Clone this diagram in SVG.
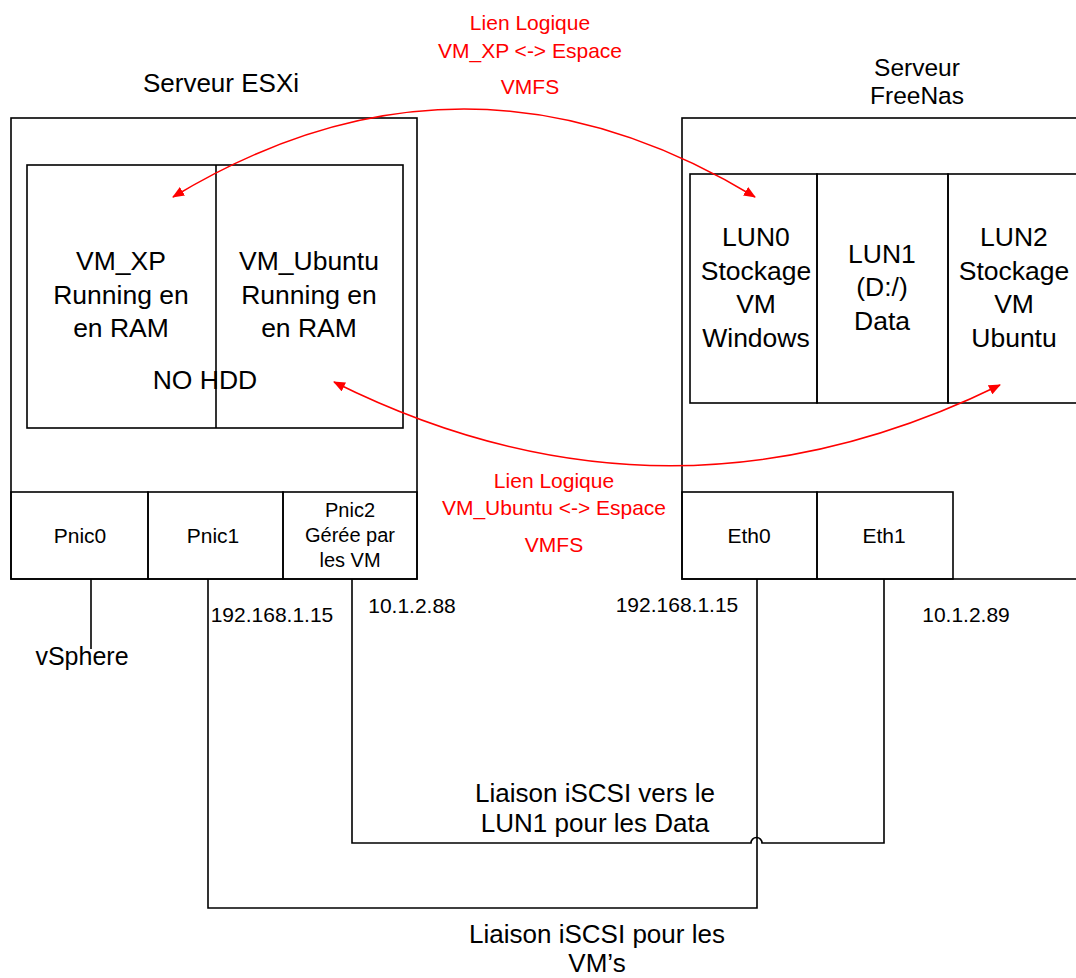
<svg xmlns="http://www.w3.org/2000/svg" width="1076" height="978" viewBox="0 0 1076 978">
<style>
.b{fill:none;stroke:#000;stroke-width:1.6}
.t{font-family:"Liberation Sans",Arial,sans-serif;fill:#000;text-anchor:middle}
.r{font-family:"Liberation Sans",Arial,sans-serif;fill:#ff0000;text-anchor:middle;font-size:21px}
.w{fill:none;stroke:#000;stroke-width:1.6}
.a{fill:none;stroke:#ff0000;stroke-width:1.5}
</style>
<defs>
<marker id="ah" viewBox="0 0 12 10" refX="11" refY="5" markerWidth="12" markerHeight="10" markerUnits="userSpaceOnUse" orient="auto-start-reverse">
<path d="M0,0 L12,5 L0,10 Z" fill="#ff0000"/>
</marker>
</defs>
<rect width="1076" height="978" fill="#fff"/>

<g id="esxi">
<text class="t" x="221" y="92" font-size="26">Serveur ESXi</text>
<rect class="b" x="11" y="118" width="406" height="461"/>
</g>
<g id="vm-box">
<rect class="b" x="27" y="165" width="376" height="263"/>
<line class="b" x1="216" y1="165" x2="216" y2="428"/>
</g>
<g id="vm-xp">
<text class="t" x="121" y="270" font-size="26.5">VM_XP</text>
<text class="t" x="121" y="304" font-size="26.5">Running en</text>
<text class="t" x="121" y="337" font-size="26.5">en RAM</text>
</g>
<g id="vm-ubuntu">
<text class="t" x="309" y="270" font-size="26.5">VM_Ubuntu</text>
<text class="t" x="309" y="304" font-size="26.5">Running en</text>
<text class="t" x="309" y="337" font-size="26.5">en RAM</text>
</g>
<g id="nohdd">
<text class="t" x="205" y="389" font-size="26.5">NO HDD</text>
</g>
<g id="pnic0">
<rect class="b" x="11" y="492" width="137" height="87"/>
<text class="t" x="80" y="543" font-size="21">Pnic0</text>
</g>
<g id="pnic1">
<rect class="b" x="148" y="492" width="135" height="87"/>
<text class="t" x="213" y="543" font-size="21">Pnic1</text>
</g>
<g id="pnic2">
<rect class="b" x="283" y="492" width="134" height="87"/>
<text class="t" x="350" y="517" font-size="20">Pnic2</text>
<text class="t" x="350" y="542" font-size="20">Gérée par</text>
<text class="t" x="350" y="567" font-size="20">les VM</text>
</g>

<g id="freenas">
<text class="t" x="917" y="76" font-size="24.5">Serveur</text>
<text class="t" x="917" y="104" font-size="24.5">FreeNas</text>
<rect class="b" x="682" y="118" width="420" height="461"/>
</g>
<g id="lun0">
<rect class="b" x="690" y="174" width="127" height="229"/>
<text class="t" x="756" y="246" font-size="26.5">LUN0</text>
<text class="t" x="756" y="280" font-size="26.5">Stockage</text>
<text class="t" x="756" y="313" font-size="26.5">VM</text>
<text class="t" x="756" y="347" font-size="26.5">Windows</text>
</g>
<g id="lun1">
<rect class="b" x="817" y="174" width="131" height="229"/>
<text class="t" x="882" y="263" font-size="26.5">LUN1</text>
<text class="t" x="882" y="296" font-size="26.5">(D:/)</text>
<text class="t" x="882" y="330" font-size="26.5">Data</text>
</g>
<g id="lun2">
<rect class="b" x="948" y="174" width="140" height="229"/>
<text class="t" x="1014" y="246" font-size="26.5">LUN2</text>
<text class="t" x="1014" y="280" font-size="26.5">Stockage</text>
<text class="t" x="1014" y="313" font-size="26.5">VM</text>
<text class="t" x="1014" y="347" font-size="26.5">Ubuntu</text>
</g>
<g id="eth0">
<rect class="b" x="682" y="492" width="135" height="87"/>
<text class="t" x="749" y="543" font-size="21">Eth0</text>
</g>
<g id="eth1">
<rect class="b" x="817" y="492" width="136" height="87"/>
<text class="t" x="884" y="543" font-size="21">Eth1</text>
</g>

<g id="connectors">
<line class="w" x1="91" y1="579" x2="91" y2="649"/>
<path class="w" d="M208,579 V908 H757 V579"/>
<path class="w" d="M352,579 V843 H751 A5.5,5.5 0 0 1 762,843 H884 V579"/>
<path class="a" d="M173,197 Q464,21 755,197" marker-start="url(#ah)" marker-end="url(#ah)"/>
<path class="a" d="M334,382 Q667,548 1000,385" marker-start="url(#ah)" marker-end="url(#ah)"/>
</g>

<g id="labels">
<text class="t" x="82" y="665" font-size="25">vSphere</text>
<text class="t" x="272" y="622" font-size="21">192.168.1.15</text>
<text class="t" x="412" y="613" font-size="21">10.1.2.88</text>
<text class="t" x="677" y="612" font-size="21">192.168.1.15</text>
<text class="t" x="966" y="622" font-size="21">10.1.2.89</text>
<text class="t" x="595" y="802" font-size="26">Liaison iSCSI vers le</text>
<text class="t" x="595" y="832" font-size="26">LUN1 pour les Data</text>
<text class="t" x="597" y="943" font-size="26">Liaison iSCSI pour les</text>
<text class="t" x="597" y="972" font-size="26">VM’s</text>
<text class="r" x="530" y="30">Lien Logique</text>
<text class="r" x="530" y="58">VM_XP &lt;-&gt; Espace</text>
<text class="r" x="530" y="94">VMFS</text>
<text class="r" x="554" y="488">Lien Logique</text>
<text class="r" x="554" y="515">VM_Ubuntu &lt;-&gt; Espace</text>
<text class="r" x="554" y="552">VMFS</text>
</g>
</svg>
